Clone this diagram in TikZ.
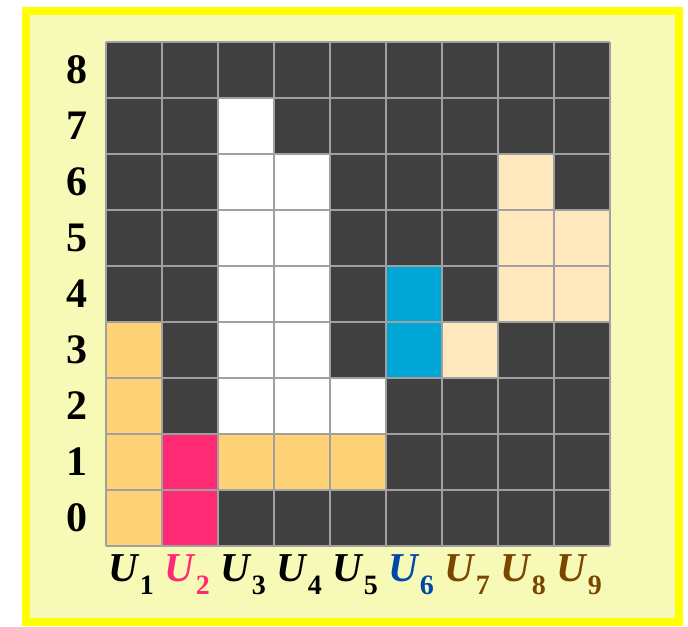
\documentclass[tikz,border=0pt]{standalone}
\usepackage{fontspec}
\setmainfont{Liberation Serif}
\definecolor{cellDark}{HTML}{404040}
\definecolor{cellPeach}{HTML}{FFE8BD}
\definecolor{cellOrange}{HTML}{FFD278}
\definecolor{cellPink}{HTML}{FF2A74}
\definecolor{cellBlue}{HTML}{00A6D6}
\definecolor{lineGrid}{HTML}{A0A0A0}
\definecolor{frameYellow}{HTML}{FFFF00}
\definecolor{paperYellow}{HTML}{F7F9B6}
\definecolor{labelPink}{HTML}{FF2A74}
\definecolor{labelBlue}{HTML}{0047AB}
\definecolor{labelBrown}{HTML}{7A4600}

% column label: bold italic U with upright bold subscript
\newcommand{\ulab}[1]{\textit{U}\raisebox{-0.3em}{\fontsize{28}{28}\selectfont #1}}

\begin{document}
\begin{tikzpicture}[
    x=56pt, y=56pt,
    framebox/.style={draw=frameYellow, line width=8.5pt, fill=paperYellow},
    gridline/.style={draw=lineGrid, line width=2.5pt},
    rowlabel/.style={font=\fontsize{42}{44}\selectfont\bfseries, inner sep=0pt},
    collabel/.style={font=\fontsize{41}{44}\selectfont\bfseries, inner sep=0pt, anchor=base}
]

    \useasboundingbox (-1.893,-1.446) rectangle (10.393,9.75);

    % ==========================================
    % 1. FRAME AND BACKGROUND
    % ==========================================
    \draw[framebox] (-1.429,-1.357) rectangle (10.232,9.554);

    % ==========================================
    % 2. CELLS (dark by default)
    % ==========================================
    \fill[cellDark] (0,0) rectangle (9,9);

    % white cells
    \foreach \c/\r in {3/7, 3/6, 4/6, 3/5, 4/5, 3/4, 4/4, 3/3, 4/3, 3/2, 4/2, 5/2}
        \fill[white] (\c-1,\r) rectangle (\c,\r+1);

    % peach cells
    \foreach \c/\r in {8/6, 8/5, 9/5, 8/4, 9/4, 7/3}
        \fill[cellPeach] (\c-1,\r) rectangle (\c,\r+1);

    % orange cells
    \foreach \c/\r in {1/3, 1/2, 1/1, 1/0, 3/1, 4/1, 5/1}
        \fill[cellOrange] (\c-1,\r) rectangle (\c,\r+1);

    % pink and blue cells
    \foreach \r in {0, 1}
        \fill[cellPink] (1,\r) rectangle (2,\r+1);
    \foreach \r in {3, 4}
        \fill[cellBlue] (5,\r) rectangle (6,\r+1);

    \draw[gridline, step=1] (0,0) grid (9,9);

    % ==========================================
    % 3. LABELS
    % ==========================================
    \foreach \r in {0,...,8}
        \node[rowlabel] (row\r) at (-0.518,\r+0.5) {\r};

    \node[collabel] (col1) at (0.45,-0.64) {\ulab{1}};
    \node[collabel, text=labelPink] (col2) at (1.45,-0.64) {\ulab{2}};
    \node[collabel] (col3) at (2.45,-0.64) {\ulab{3}};
    \node[collabel] (col4) at (3.45,-0.64) {\ulab{4}};
    \node[collabel] (col5) at (4.45,-0.64) {\ulab{5}};
    \node[collabel, text=labelBlue] (col6) at (5.45,-0.64) {\ulab{6}};
    \node[collabel, text=labelBrown] (col7) at (6.45,-0.64) {\ulab{7}};
    \node[collabel, text=labelBrown] (col8) at (7.45,-0.64) {\ulab{8}};
    \node[collabel, text=labelBrown] (col9) at (8.45,-0.64) {\ulab{9}};

\end{tikzpicture}
\end{document}
